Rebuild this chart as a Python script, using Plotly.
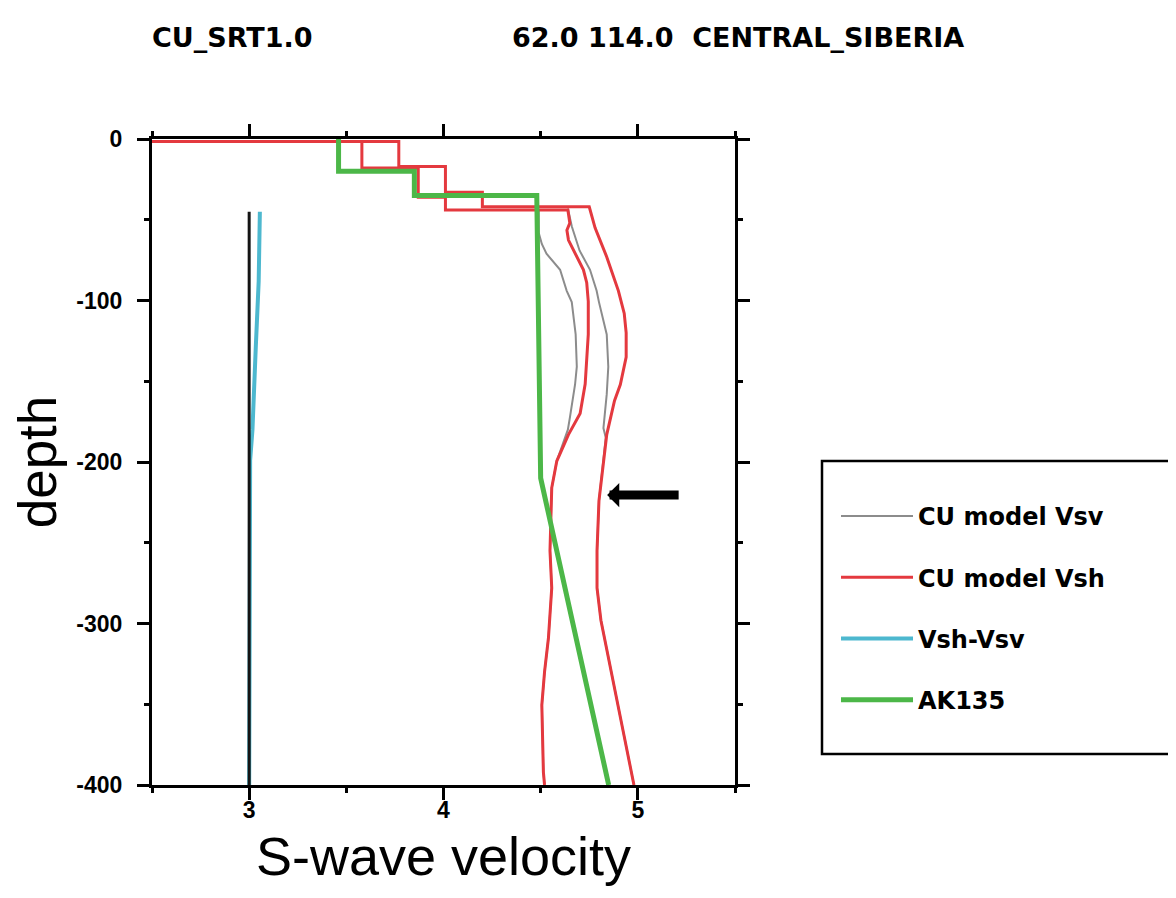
import plotly.graph_objects as go

# ---------------- data ----------------
# CU model Vsh - lower bound (inner red line)
vsh_min_depth = [-1.5, -1.5, -18, -18, -36, -36, -44, -44, -52, -56.5, -62.6, -73, -81, -89,
                 -100.6, -121, -151.7, -170, -183, -199.4, -216, -255, -278, -309, -330,
                 -350.5, -392, -400]
vsh_min_v = [2.5, 3.58, 3.58, 3.87, 3.87, 4.01, 4.01, 4.64, 4.65, 4.635, 4.643, 4.686, 4.72,
             4.737, 4.745, 4.745, 4.729, 4.703, 4.643, 4.583, 4.557, 4.548, 4.557, 4.54, 4.52,
             4.506, 4.514, 4.52]

# CU model Vsh - upper bound (outer red line)
vsh_max_depth = [-1.5, -1.5, -17, -17, -33, -33, -42, -42, -55, -73, -94, -108, -120, -135,
                 -152, -162, -183, -203, -224, -255, -278, -298, -329, -370, -400]
vsh_max_v = [2.5, 3.77, 3.77, 4.01, 4.01, 4.20, 4.20, 4.75, 4.78, 4.84, 4.90, 4.93, 4.94, 4.94,
             4.91, 4.88, 4.84, 4.82, 4.80, 4.79, 4.79, 4.81, 4.86, 4.93, 4.98]

# CU model Vsv - lower bound (inner grey line)
vsv_min_depth = [-44, -58, -65, -71, -81, -94, -101, -121, -141, -152, -172, -180, -199.4,
                 -216, -255, -278, -309, -330, -350.5, -392, -400]
vsv_min_v = [4.49, 4.49, 4.506, 4.53, 4.60, 4.634, 4.66, 4.68, 4.686, 4.677, 4.651, 4.64,
             4.583, 4.557, 4.548, 4.557, 4.54, 4.52, 4.506, 4.514, 4.52]

# CU model Vsv - upper bound (outer grey line)
vsv_max_depth = [-43, -54, -69, -81, -94, -101, -121, -141, -158, -179, -185, -203, -224,
                 -255, -278, -298, -329, -370, -400]
vsv_max_v = [4.64, 4.66, 4.70, 4.754, 4.788, 4.80, 4.84, 4.848, 4.84, 4.823, 4.835, 4.82,
             4.80, 4.79, 4.79, 4.81, 4.86, 4.93, 4.98]

# Vsh-Vsv difference, drawn offset from the reference value 3
diff_depth = [-45, -88, -129, -149, -170, -180, -199, -400]
diff_value = [0.055, 0.049, 0.034, 0.027, 0.022, 0.017, 0.005, 0.0]
diff_offset = 3.0

# zero line of the difference curve
zero_depth = [-45, -400]
zero_v = [3.0, 3.0]

# AK135 reference model
ak135_depth = [0, -20, -20, -35, -35, -210, -400]
ak135_v = [3.46, 3.46, 3.85, 3.85, 4.48, 4.50, 4.85]

# arrow target
arrow_v, arrow_depth = 4.842, -220.5

y_tick_vals = [0, -100, -200, -300, -400]
y_tick_text = ["0", "-100", "-200", "-300", "-400"]

title_left = "CU_SRT1.0"
title_right = "62.0 114.0\u00a0\u00a0CENTRAL_SIBERIA"

# ---------------- figure ----------------
# the page body has an 8px margin, so the figure is 8px smaller than the window
W, H = 1168, 890
L, T = 144, 131            # plot area left / top (figure pixels)
PW, PH = 583, 646          # plot area width / height


def px(xs):                # screen x -> paper x
    return (xs - 8 - L) / PW


def py(ys):                # screen y -> paper y
    return (T + PH - (ys - 8)) / PH


fig = go.Figure()

fig.add_trace(go.Scatter(
    x=vsv_min_v + [None] + vsv_max_v, y=vsv_min_depth + [None] + vsv_max_depth,
    mode="lines", name="CU model Vsv", legendgroup="vsv",
    line=dict(color="#8c8c8c", width=2)))
fig.add_trace(go.Scatter(
    x=vsh_min_v + [None] + vsh_max_v, y=vsh_min_depth + [None] + vsh_max_depth,
    mode="lines", name="CU model Vsh", legendgroup="vsh",
    line=dict(color="#e4393f", width=3)))
fig.add_trace(go.Scatter(
    x=[diff_offset + d for d in diff_value], y=diff_depth,
    mode="lines", name="Vsh-Vsv", legendgroup="diff",
    line=dict(color="#4db8cf", width=4)))
fig.add_trace(go.Scatter(
    x=ak135_v, y=ak135_depth,
    mode="lines", name="AK135", legendgroup="ak",
    line=dict(color="#4cb748", width=5)))
fig.add_trace(go.Scatter(
    x=zero_v, y=zero_depth, mode="lines", showlegend=False,
    line=dict(color="#141414", width=3)))

bold_font = dict(family="DejaVu Sans", size=27, color="black", weight="bold")
tick_font = dict(family="Liberation Sans", size=23, color="black", weight="bold")

axis_common = dict(
    ticks="outside", ticklen=12, tickwidth=2.5, tickcolor="black",
    showline=True, linewidth=3, linecolor="black", mirror="allticks",
    showgrid=False, zeroline=False, tickfont=tick_font,
)

fig.update_xaxes(
    range=[2.5, 5.5], tickmode="linear", tick0=0, dtick=1, ticklabelstandoff=-10,
    minor=dict(tick0=0, dtick=0.5, ticks="outside", ticklen=5, tickwidth=2.5,
               tickcolor="black", showgrid=False),
    title=dict(text="S-wave velocity",
               font=dict(family="Liberation Sans", size=54, color="black"), standoff=16),
    **axis_common)
fig.update_yaxes(
    range=[-400, 0], tickmode="array", tickvals=y_tick_vals, ticktext=y_tick_text,
    ticklabelstandoff=10,
    minor=dict(tick0=0, dtick=50, ticks="outside", ticklen=5, tickwidth=2.5,
               tickcolor="black", showgrid=False),
    title=dict(text="depth",
               font=dict(family="Liberation Sans", size=53, color="black"), standoff=5),
    **axis_common)

fig.update_layout(
    width=W, height=H,
    margin=dict(l=L, r=W - L - PW, t=T, b=H - T - PH, autoexpand=False),
    plot_bgcolor="white", paper_bgcolor="white",
    showlegend=True,
    legend=dict(x=px(836), xanchor="left", y=py(608), yanchor="middle",
                font=dict(family="DejaVu Sans", size=24, color="black", weight="bold"),
                tracegroupgap=27, bgcolor="rgba(0,0,0,0)", borderwidth=0, itemwidth=72),
    shapes=[dict(type="rect", xref="paper", yref="paper",
                 x0=px(822), x1=px(1220), y0=py(754), y1=py(461),
                 line=dict(color="black", width=2.5), fillcolor="rgba(0,0,0,0)")],
    annotations=[
        dict(text=title_left, xref="paper", yref="paper", x=px(150), y=py(38),
             xanchor="left", yanchor="middle", showarrow=False, font=bold_font),
        dict(text=title_right, xref="paper", yref="paper", x=px(510),
             y=py(38), xanchor="left", yanchor="middle", showarrow=False,
             font=bold_font),
        dict(text="", x=arrow_v, y=arrow_depth, xref="x", yref="y", ax=73, ay=0,
             showarrow=True, arrowhead=1, arrowwidth=9, arrowsize=0.45, arrowcolor="black"),
    ],
)

fig.write_html("out.html")
